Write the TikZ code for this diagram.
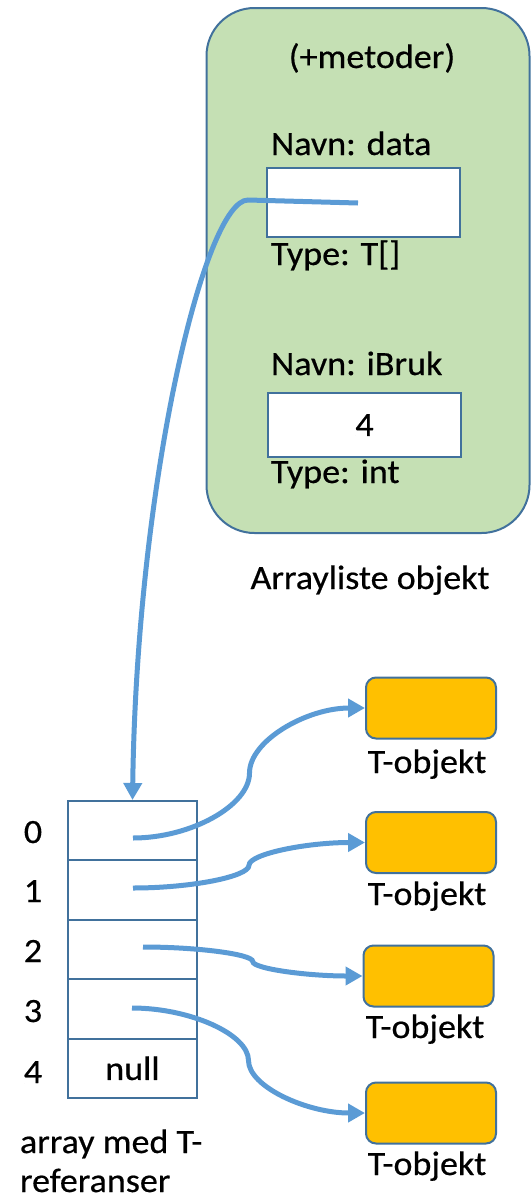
\documentclass[tikz,border=0pt]{standalone}
\usepackage{fontspec}
\setmainfont{Carlito}[FakeStretch=1.06,FakeBold=0.5]
\usetikzlibrary{arrows.meta}
\definecolor{boxgreen}{HTML}{C5E0B4}
\definecolor{edgeblue}{HTML}{41719C}
\definecolor{linkblue}{HTML}{5B9BD5}
\definecolor{objorange}{HTML}{FFC000}
\begin{document}
\begin{tikzpicture}[x=1pt,y=-1pt, font=\fontsize{34}{40}\selectfont,
  txt/.style={inner sep=0pt, outer sep=0pt},
  field/.style={draw=edgeblue, line width=2pt, fill=white, minimum width=193pt, minimum height=69pt, inner sep=0pt},
  cell/.style={draw=edgeblue, line width=2pt, fill=white, minimum width=129pt, minimum height=59.4pt, inner sep=0pt},
  tobj/.style={draw=edgeblue, line width=2pt, fill=objorange, rounded corners=10pt, minimum width=130pt, minimum height=61pt, inner sep=0pt},
  link/.style={draw=linkblue, line width=5pt, -{Triangle[length=17pt,width=18pt]}},
]
\useasboundingbox (0,0) rectangle (531,1200);

% Arrayliste object
\node[draw=edgeblue, fill=boxgreen, line width=2pt, rounded corners=48pt,
      minimum width=323pt, minimum height=525pt, inner sep=0pt] (alist) at (368,270.5) {};
\node[txt, anchor=base] (met) at (372,68) {(+metoder)};
\node[txt, anchor=base west] (nd) at (271,155) {Navn: data};
\node[field] (data) at (363.5,202.5) {};
\node[txt, anchor=base west] (td) at (271,265) {Type: T[]};
\node[txt, anchor=base west] (nb) at (271,375) {Navn: iBruk};
\node[field, minimum height=64pt] (ibruk) at (364.5,425) {4};
\node[txt, anchor=base west] (tb) at (271,483) {Type: int};
\node[txt, anchor=base] (al) at (370,589) {Arrayliste objekt};

% array
\node[cell] (a0) at (132.5,830.7) {};
\node[cell] (a1) at (132.5,890.1) {};
\node[cell] (a2) at (132.5,949.5) {};
\node[cell] (a3) at (132.5,1008.9) {};
\node[cell] (a4) at (132.5,1068.3) {null};
\node[txt, anchor=base] (i0) at (33,843) {0};
\node[txt, anchor=base] (i1) at (33,902) {1};
\node[txt, anchor=base] (i2) at (33,962) {2};
\node[txt, anchor=base] (i3) at (33,1022) {3};
\node[txt, anchor=base] (i4) at (33,1083) {4};
\node[txt, anchor=base west] (cap1) at (20,1153) {array med T-};
\node[txt, anchor=base west] (cap2) at (20,1192) {referanser};

% T-objects
\node[tobj] (o1) at (431,708) {};
\node[tobj] (o2) at (431,842.5) {};
\node[tobj] (o3) at (428.5,976) {};
\node[tobj] (o4) at (431,1113) {};
\node[txt, anchor=base] (l1) at (427,773) {T-objekt};
\node[txt, anchor=base] (l2) at (427,905) {T-objekt};
\node[txt, anchor=base] (l3) at (425,1038) {T-objekt};
\node[txt, anchor=base] (l4) at (427,1175) {T-objekt};

% connector points
\coordinate (ds) at (358,203);
\coordinate (db) at (248,200);
\coordinate (s0) at (133,838);
\coordinate (s1) at (133,888);
\coordinate (s2) at (143,947);
\coordinate (s3) at (132,1008);
\coordinate (m0) at (249.5,773);
\coordinate (m1) at (249,865.25);
\coordinate (m2) at (252.75,961.5);
\coordinate (m3) at (248.5,1060.5);

\draw[link] (ds) -- (db) .. controls +(-43,0) and +(4.5,-320) .. (a0.north);
\draw[link] (s0) .. controls +(58,0) and +(0,32.5) .. (m0)
                 .. controls +(0,-32.5) and +(-58,0) .. (o1.west);
\draw[link] (s1) .. controls +(58,0) and +(0,11.4) .. (m1)
                 .. controls +(0,-11.4) and +(-58,0) .. (o2.west);
\draw[link] (s2) .. controls +(55,0) and +(0,-7.25) .. (m2)
                 .. controls +(0,7.25) and +(-55,0) .. (o3.west);
\draw[link] (s3) .. controls +(58,0) and +(0,-26.25) .. (m3)
                 .. controls +(0,26.25) and +(-58,0) .. (o4.west);
\end{tikzpicture}
\end{document}
